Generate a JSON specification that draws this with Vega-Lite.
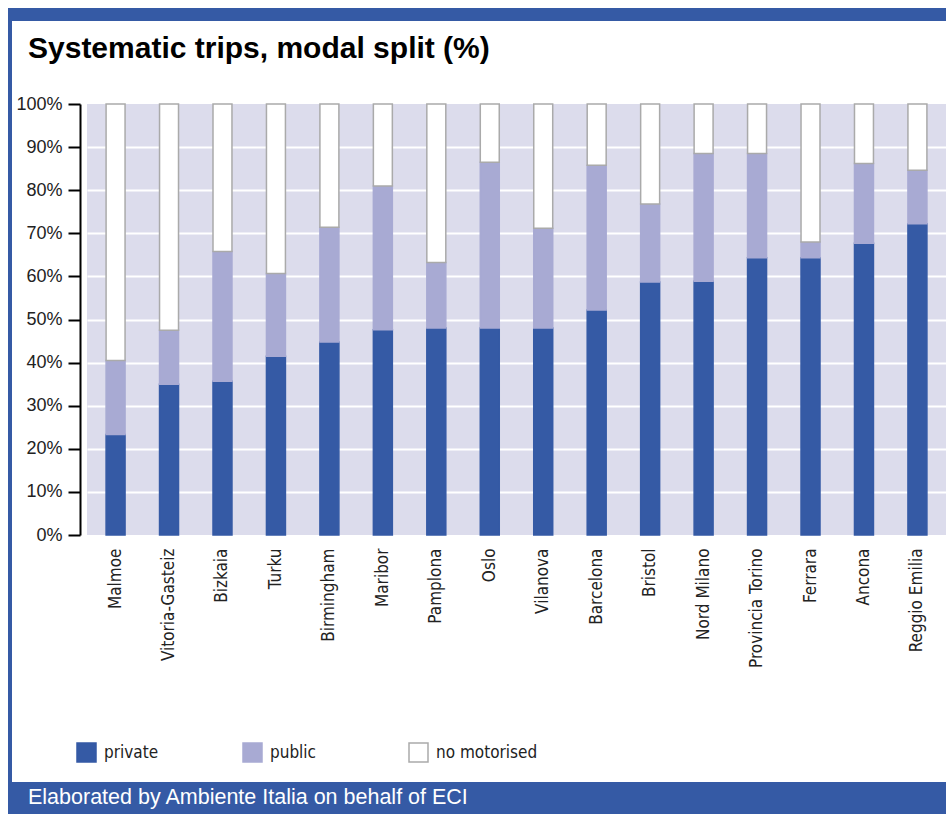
{
  "$schema": "https://vega.github.io/schema/vega-lite/v6.json",
  "padding": {"left": 8, "top": 8, "right": 0, "bottom": 0},
  "background": "white",
  "columns": 2,
  "align": "none",
  "spacing": 0,
  "config": {"view": {"stroke": null}, "font": "Liberation Sans"},
  "concat": [
    {
      "width": 4, "height": 806,
      "view": {"fill": "#355aa5", "stroke": null},
      "data": {"values": [{}]},
      "mark": {"type": "rect", "color": "#355aa5"},
      "encoding": {}
    },
    {
      "columns": 1,
      "spacing": 13,
      "resolve": {"legend": {"fill": "independent", "stroke": "independent"}, "scale": {"x": "independent", "y": "independent"}},
      "concat": [
        {
          "width": 859, "height": 13,
          "view": {"fill": "#355aa5", "stroke": null},
          "data": {"values": [{}]},
          "mark": {"type": "rect", "color": "#355aa5"},
          "encoding": {
            "x": {"datum": 0, "type": "quantitative", "scale": {"domain": [0, 1], "range": [-75, 859]}, "axis": null},
            "x2": {"datum": 1},
            "y": {"datum": 0, "type": "quantitative", "scale": {"domain": [0, 1]}, "axis": null},
            "y2": {"datum": 1}
          }
        },
        {
          "width": 859, "height": 431,
          "view": {"fill": "#dcdcec", "stroke": null},
          "title": {"text": "Systematic trips, modal split (%)", "anchor": "start", "frame": "bounds", "dx": 16, "offset": 31, "font": "Liberation Sans", "fontSize": 30, "fontWeight": "bold", "color": "#000"},
          "data": {"values": [
            {"city": "Malmoe", "mode": "private", "k": 1, "share": 23.3},
            {"city": "Vitoria-Gasteiz", "mode": "private", "k": 1, "share": 35.0},
            {"city": "Bizkaia", "mode": "private", "k": 1, "share": 35.7},
            {"city": "Turku", "mode": "private", "k": 1, "share": 41.5},
            {"city": "Birmingham", "mode": "private", "k": 1, "share": 44.8},
            {"city": "Maribor", "mode": "private", "k": 1, "share": 47.6},
            {"city": "Pamplona", "mode": "private", "k": 1, "share": 48.0},
            {"city": "Oslo", "mode": "private", "k": 1, "share": 48.0},
            {"city": "Vilanova", "mode": "private", "k": 1, "share": 48.0},
            {"city": "Barcelona", "mode": "private", "k": 1, "share": 52.2},
            {"city": "Bristol", "mode": "private", "k": 1, "share": 58.7},
            {"city": "Nord Milano", "mode": "private", "k": 1, "share": 58.9},
            {"city": "Provincia Torino", "mode": "private", "k": 1, "share": 64.3},
            {"city": "Ferrara", "mode": "private", "k": 1, "share": 64.3},
            {"city": "Ancona", "mode": "private", "k": 1, "share": 67.7},
            {"city": "Reggio Emilia", "mode": "private", "k": 1, "share": 72.2},
            {"city": "Malmoe", "mode": "public", "k": 2, "share": 17.2},
            {"city": "Vitoria-Gasteiz", "mode": "public", "k": 2, "share": 12.5},
            {"city": "Bizkaia", "mode": "public", "k": 2, "share": 30.1},
            {"city": "Turku", "mode": "public", "k": 2, "share": 19.2},
            {"city": "Birmingham", "mode": "public", "k": 2, "share": 26.6},
            {"city": "Maribor", "mode": "public", "k": 2, "share": 33.4},
            {"city": "Pamplona", "mode": "public", "k": 2, "share": 15.2},
            {"city": "Oslo", "mode": "public", "k": 2, "share": 38.5},
            {"city": "Vilanova", "mode": "public", "k": 2, "share": 23.2},
            {"city": "Barcelona", "mode": "public", "k": 2, "share": 33.6},
            {"city": "Bristol", "mode": "public", "k": 2, "share": 18.1},
            {"city": "Nord Milano", "mode": "public", "k": 2, "share": 29.6},
            {"city": "Provincia Torino", "mode": "public", "k": 2, "share": 24.2},
            {"city": "Ferrara", "mode": "public", "k": 2, "share": 3.7},
            {"city": "Ancona", "mode": "public", "k": 2, "share": 18.5},
            {"city": "Reggio Emilia", "mode": "public", "k": 2, "share": 12.4},
            {"city": "Malmoe", "mode": "no motorised", "k": 3, "share": 59.5},
            {"city": "Vitoria-Gasteiz", "mode": "no motorised", "k": 3, "share": 52.5},
            {"city": "Bizkaia", "mode": "no motorised", "k": 3, "share": 34.2},
            {"city": "Turku", "mode": "no motorised", "k": 3, "share": 39.3},
            {"city": "Birmingham", "mode": "no motorised", "k": 3, "share": 28.6},
            {"city": "Maribor", "mode": "no motorised", "k": 3, "share": 19.0},
            {"city": "Pamplona", "mode": "no motorised", "k": 3, "share": 36.8},
            {"city": "Oslo", "mode": "no motorised", "k": 3, "share": 13.5},
            {"city": "Vilanova", "mode": "no motorised", "k": 3, "share": 28.8},
            {"city": "Barcelona", "mode": "no motorised", "k": 3, "share": 14.2},
            {"city": "Bristol", "mode": "no motorised", "k": 3, "share": 23.2},
            {"city": "Nord Milano", "mode": "no motorised", "k": 3, "share": 11.5},
            {"city": "Provincia Torino", "mode": "no motorised", "k": 3, "share": 11.5},
            {"city": "Ferrara", "mode": "no motorised", "k": 3, "share": 32.0},
            {"city": "Ancona", "mode": "no motorised", "k": 3, "share": 13.8},
            {"city": "Reggio Emilia", "mode": "no motorised", "k": 3, "share": 15.4}
          ]},
          "mark": {"type": "bar", "strokeWidth": 1.5},
          "encoding": {
            "x": {"field": "city", "type": "nominal", "sort": null,
                  "scale": {"paddingInner": 0.645, "paddingOuter": 0.357},
                  "axis": {"title": null, "labelAngle": -90, "ticks": false, "domain": false, "labelPadding": 13,
                           "labelFont": "DejaVu Sans Condensed, Liberation Sans", "labelFontSize": 17, "labelColor": "#222", "grid": false}},
            "y": {"field": "share", "type": "quantitative", "stack": "normalize",
                  "scale": {"domain": [0, 1], "nice": false},
                  "axis": {"title": null, "values": [0, 0.1, 0.2, 0.3, 0.4, 0.5, 0.6, 0.7, 0.8, 0.9, 1], "format": ".0%",
                           "offset": 7, "tickSize": 12, "tickWidth": 2, "tickColor": "#000", "domainColor": "#000", "domainWidth": 2,
                           "labelPadding": 6, "labelFont": "Liberation Sans", "labelFontSize": 18, "labelColor": "#222",
                           "grid": true, "gridColor": "#ffffff", "gridWidth": 2,
                           "gridOpacity": {"condition": {"test": "datum.value == 0 || datum.value == 1", "value": 0}, "value": 1},
                           "minExtent": 68, "maxExtent": 68}},
            "fill": {"field": "mode", "type": "nominal", "title": null,
                     "scale": {"domain": ["private", "public", "no motorised"], "range": ["#355aa5", "#a8aad3", "#ffffff"]},
                     "legend": {"orient": "none", "legendX": -15, "legendY": 634, "direction": "horizontal", "gridAlign": "all",
                                "columnPadding": 34, "labelOffset": 7, "symbolType": "square", "symbolSize": 361, "symbolStrokeWidth": 1.5,
                                "labelFont": "DejaVu Sans Condensed, Liberation Sans", "labelFontSize": 17, "labelColor": "#222", "padding": 4}},
            "stroke": {"field": "mode", "type": "nominal", "title": null,
                     "scale": {"domain": ["private", "public", "no motorised"], "range": ["#355aa5", "#a8aad3", "#aaaaaa"]},
                     "legend": {"orient": "none", "legendX": -15, "legendY": 634, "direction": "horizontal", "gridAlign": "all",
                                "columnPadding": 34, "labelOffset": 7, "symbolType": "square", "symbolSize": 361, "symbolStrokeWidth": 1.5,
                                "labelFont": "DejaVu Sans Condensed, Liberation Sans", "labelFontSize": 17, "labelColor": "#222", "padding": 4}},
            "order": {"field": "k", "type": "quantitative"}
          }
        },
        {
          "width": 859, "height": 32,
          "view": {"fill": "#355aa5", "stroke": null},
          "data": {"values": [{"t": "Elaborated by Ambiente Italia on behalf of ECI"}]},
          "layer": [
            {
              "mark": {"type": "rect", "color": "#355aa5"},
              "encoding": {
                "x": {"datum": 0, "type": "quantitative", "scale": {"domain": [0, 1], "range": [-75, 859]}, "axis": null},
                "x2": {"datum": 1},
                "y": {"datum": 0, "type": "quantitative", "scale": {"domain": [0, 1]}, "axis": null},
                "y2": {"datum": 1}
              }
            },
            {
              "mark": {"type": "text", "align": "left", "baseline": "middle", "dx": 16, "font": "Liberation Sans", "fontSize": 21.5, "color": "#ffffff"},
              "encoding": {
                "text": {"field": "t", "type": "nominal"},
                "x": {"datum": 0, "type": "quantitative", "scale": {"domain": [0, 1], "range": [-75, 859]}, "axis": null}
              }
            }
          ]
        }
      ]
    }
  ]
}
